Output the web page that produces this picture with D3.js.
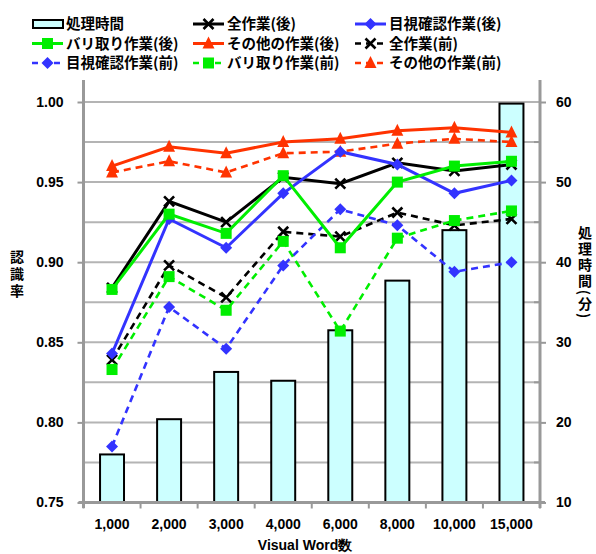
<!DOCTYPE html>
<html>
<head>
<meta charset="utf-8">
<script src="https://cdn.jsdelivr.net/npm/d3@7/dist/d3.min.js"></script>
<style>
  html, body { margin: 0; padding: 0; background: #fff; }
  svg { display: block; }
  text { font-family: "Liberation Sans", Arial, sans-serif; font-weight: bold; fill: #000; }
  .jp { font-family: "Noto Sans CJK JP", sans-serif; font-weight: bold; }
  .vert { writing-mode: vertical-rl; }
</style>
</head>
<body>
<svg id="chart" width="596" height="554"></svg>
<script>
// Visual Word count categories
const categories = ["1,000", "2,000", "3,000", "4,000", "6,000", "8,000", "10,000", "15,000"];

// Processing time (minutes), right axis
const procTime = [16.0, 20.4, 26.3, 25.2, 31.5, 37.7, 44.0, 59.8];

// Recognition rates, left axis ("後" = after, "前" = before)
const allAfter    = [0.884, 0.938, 0.925, 0.953, 0.949, 0.962, 0.957, 0.961];
const visAfter    = [0.843, 0.927, 0.909, 0.943, 0.969, 0.961, 0.943, 0.951];
const deburAfter  = [0.883, 0.930, 0.918, 0.954, 0.909, 0.950, 0.960, 0.963];
const otherAfter  = [0.960, 0.972, 0.968, 0.975, 0.977, 0.982, 0.984, 0.981];
const allBefore   = [0.839, 0.898, 0.878, 0.919, 0.916, 0.931, 0.923, 0.927];
const visBefore   = [0.785, 0.872, 0.846, 0.898, 0.933, 0.923, 0.894, 0.900];
const deburBefore = [0.833, 0.891, 0.870, 0.913, 0.857, 0.915, 0.926, 0.932];
const otherBefore = [0.956, 0.963, 0.956, 0.968, 0.969, 0.974, 0.977, 0.975];

const leftTicks  = [0.75, 0.80, 0.85, 0.90, 0.95, 1.00];
const rightTicks = [10, 20, 30, 40, 50, 60];

const series = [
  { name: "全作業(後)",     values: allAfter,    color: "#000000", dash: null, marker: "x" },
  { name: "目視確認作業(後)", values: visAfter,    color: "#3333ff", dash: null, marker: "diamond" },
  { name: "バリ取り作業(後)", values: deburAfter,  color: "#00ee00", dash: null, marker: "square" },
  { name: "その他の作業(後)", values: otherAfter,  color: "#ff3300", dash: null, marker: "triangle" },
  { name: "全作業(前)",     values: allBefore,   color: "#000000", dash: "7,5", marker: "x" },
  { name: "目視確認作業(前)", values: visBefore,   color: "#3333ff", dash: "7,5", marker: "diamond" },
  { name: "バリ取り作業(前)", values: deburBefore, color: "#00ee00", dash: "7,5", marker: "square" },
  { name: "その他の作業(前)", values: otherBefore, color: "#ff3300", dash: "7,5", marker: "triangle" }
];

const svg = d3.select("#chart");
const plotL = 83.5, plotR = 540, plotT = 102, plotB = 502.5;

const x = d3.scaleBand().domain(categories).range([plotL, plotR]).padding(0);
const yL = d3.scaleLinear().domain([0.75, 1.0]).range([plotB, plotT]);
const yR = d3.scaleLinear().domain([10, 60]).range([plotB, plotT]);

// horizontal gridlines every 0.025
const grid = d3.range(0.775, 1.0001, 0.025);
svg.append("g").selectAll("line").data(grid).join("line")
  .attr("x1", plotL).attr("x2", plotR)
  .attr("y1", d => yL(d)).attr("y2", d => yL(d))
  .attr("stroke", "#b4b4b4").attr("stroke-width", 2);

// bars: processing time
const bw = x.bandwidth() * 0.42;
svg.append("g").selectAll("rect").data(procTime).join("rect")
  .attr("x", (d, i) => x(categories[i]) + x.bandwidth() / 2 - bw / 2)
  .attr("width", bw)
  .attr("y", d => yR(d))
  .attr("height", d => yR(10) - yR(d))
  .attr("fill", "#ccffff").attr("stroke", "#000").attr("stroke-width", 2);

// axis lines
const axisColor = "#999";
svg.append("line").attr("x1", plotL).attr("x2", plotL).attr("y1", 80).attr("y2", 508)
  .attr("stroke", axisColor).attr("stroke-width", 3);
svg.append("line").attr("x1", plotR).attr("x2", plotR).attr("y1", 80).attr("y2", 508)
  .attr("stroke", axisColor).attr("stroke-width", 3);
svg.append("line").attr("x1", plotL - 5).attr("x2", plotR + 5).attr("y1", plotB).attr("y2", plotB)
  .attr("stroke", axisColor).attr("stroke-width", 3);

// left axis
const gL = svg.append("g").attr("transform", `translate(${plotL},0)`)
  .call(d3.axisLeft(yL).tickValues(leftTicks).tickFormat(d3.format(".2f")).tickSize(6).tickPadding(14).tickSizeOuter(0));
// right axis
const gR = svg.append("g").attr("transform", `translate(${plotR},0)`)
  .call(d3.axisRight(yR).tickValues(rightTicks).tickSize(6).tickPadding(10).tickSizeOuter(0));
// minor right ticks (inside)
svg.append("g").selectAll("line").data([15, 25, 35, 45, 55]).join("line")
  .attr("x1", plotR - 6).attr("x2", plotR).attr("y1", d => yR(d)).attr("y2", d => yR(d))
  .attr("stroke", axisColor).attr("stroke-width", 2);
// bottom axis
const gB = svg.append("g").attr("transform", `translate(0,${plotB})`)
  .call(d3.axisBottom(x).tickSize(0).tickPadding(17));
// category boundary ticks
svg.append("g").selectAll("line").data(d3.range(categories.length + 1)).join("line")
  .attr("x1", i => plotL + i * x.step()).attr("x2", i => plotL + i * x.step())
  .attr("y1", plotB).attr("y2", plotB + 6)
  .attr("stroke", axisColor).attr("stroke-width", 2);

[gL, gR, gB].forEach(g => {
  g.select(".domain").remove();
  g.selectAll(".tick line").attr("stroke", axisColor).attr("stroke-width", 2);
  g.selectAll(".tick text").attr("font-size", 14).attr("font-weight", "bold")
    .attr("font-family", "'Liberation Sans', Arial, sans-serif").attr("fill", "#000");
});

// marker drawing
function drawMarker(g, type, cx, cy, color) {
  if (type === "x") {
    const s = 5;
    g.append("path").attr("d", `M${cx - s},${cy - s}L${cx + s},${cy + s}M${cx - s},${cy + s}L${cx + s},${cy - s}`)
      .attr("stroke", color).attr("stroke-width", 2.6).attr("fill", "none");
  } else if (type === "diamond") {
    const s = 6;
    g.append("path").attr("d", `M${cx},${cy - s}L${cx + s},${cy}L${cx},${cy + s}L${cx - s},${cy}Z`)
      .attr("fill", color);
  } else if (type === "square") {
    const s = 5.5;
    g.append("rect").attr("x", cx - s).attr("y", cy - s).attr("width", 2 * s).attr("height", 2 * s)
      .attr("fill", color);
  } else if (type === "triangle") {
    const s = 6;
    g.append("path").attr("d", `M${cx},${cy - s - 1}L${cx + s},${cy + s - 1}L${cx - s},${cy + s - 1}Z`)
      .attr("fill", color);
  }
}

// lines
const line = d3.line()
  .x((d, i) => x(categories[i]) + x.bandwidth() / 2)
  .y(d => yL(d));

const drawOrder = [4, 5, 6, 7, 0, 1, 2, 3];
drawOrder.forEach(k => {
  const s = series[k];
  const g = svg.append("g");
  g.append("path").datum(s.values).attr("d", line)
    .attr("fill", "none").attr("stroke", s.color)
    .attr("stroke-width", s.dash ? 2.6 : 3)
    .attr("stroke-dasharray", s.dash);
  s.values.forEach((v, i) => drawMarker(g, s.marker, x(categories[i]) + x.bandwidth() / 2, yL(v), s.color));
});

// legend
const legend = svg.append("g");
const colX = [32, 193, 355];
const rowY = [24, 43.5, 63];
const items = [{ name: "処理時間", bar: true }].concat(series);
items.forEach((it, i) => {
  const cx = colX[i % 3], cy = rowY[Math.floor(i / 3)];
  const g = legend.append("g");
  if (it.bar) {
    g.append("rect").attr("x", cx + 1).attr("y", cy - 4).attr("width", 30).attr("height", 8)
      .attr("fill", "#ccffff").attr("stroke", "#000").attr("stroke-width", 2);
  } else {
    g.append("line").attr("x1", cx).attr("x2", cx + 31).attr("y1", cy).attr("y2", cy)
      .attr("stroke", it.color).attr("stroke-width", it.dash ? 2.6 : 3)
      .attr("stroke-dasharray", it.dash ? "6,5" : null);
    drawMarker(g, it.marker, cx + 15.5, cy, it.color);
  }
  g.append("text").attr("class", "jp").attr("x", cx + 34).attr("y", cy)
    .attr("dy", "0.36em").attr("font-size", 14.5).text(it.name);
});

// axis titles, set in vertical writing
svg.append("text").attr("class", "jp vert").attr("font-size", 14)
  .attr("x", 17).attr("y", 275).attr("text-anchor", "middle")
  .attr("letter-spacing", 3).text("認識率");

svg.append("text").attr("class", "jp vert").attr("font-size", 14)
  .attr("x", 585).attr("y", 273).attr("text-anchor", "middle")
  .attr("letter-spacing", 2).text("処理時間(分)");

svg.append("text").attr("x", 305).attr("y", 550).attr("text-anchor", "middle")
  .attr("font-size", 14).attr("font-family", "'Liberation Sans', 'Noto Sans CJK JP', sans-serif")
  .text("Visual Word数");
</script>
</body>
</html>
